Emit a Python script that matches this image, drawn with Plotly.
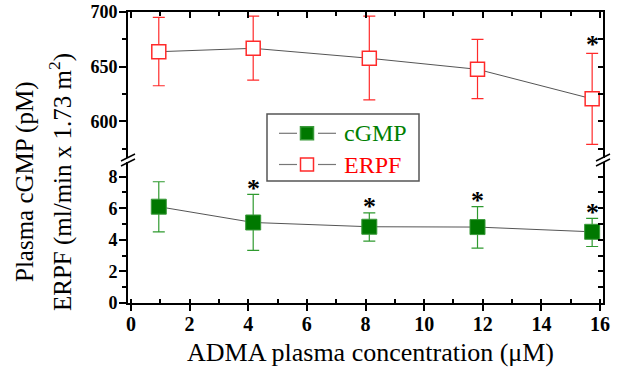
import plotly.graph_objects as go

# ---- data ----
adma = [0.95, 4.17, 8.13, 11.82, 15.73]

erpf = [663.7, 666.8, 657.7, 647.6, 620.6]
erpf_hi = [695.0, 696.3, 696.3, 675.0, 662.2]
erpf_lo = [632.6, 637.8, 619.6, 620.8, 579.0]
erpf_sig = [0, 0, 0, 0, 1]

cgmp = [6.10, 5.10, 4.83, 4.81, 4.51]
cgmp_hi = [7.68, 6.88, 5.71, 6.10, 5.36]
cgmp_lo = [4.51, 3.33, 3.92, 3.47, 3.58]
cgmp_sig = [0, 1, 1, 1, 1]

x_ticks = [0, 2, 4, 6, 8, 10, 12, 14, 16]
erpf_ticks = [600, 650, 700]
cgmp_ticks = [0, 2, 4, 6, 8]

series_names = ["cGMP", "ERPF"]

W, H = 619, 376
L, R, T, B = 128, 16, 12, 73
PW, PH = W - L - R, H - T - B

SERIF = "Liberation Serif, 'Times New Roman', Times, serif"
GREEN = "#007800"
GREEN_TXT = "#008000"
GREEN_ERR = "#2f9a2f"
RED = "#ff2a2a"
LINE = "#555555"

BOT_DOM = [0, 0.485]
TOP_DOM = [0.497, 1]


def pix(x, y):
    return (x - L) / PW, (H - B - y) / PH


fig = go.Figure()

fig.add_trace(go.Scatter(
    x=adma, y=cgmp, mode="lines+markers", name=series_names[0],
    line=dict(color=LINE, width=1),
    marker=dict(symbol="square", size=15, color=GREEN, line=dict(color="#3a9a3a", width=1)),
    error_y=dict(type="data", symmetric=False,
                 array=[h - v for h, v in zip(cgmp_hi, cgmp)],
                 arrayminus=[v - l for l, v in zip(cgmp_lo, cgmp)],
                 color=GREEN_ERR, thickness=1.2, width=6),
    xaxis="x", yaxis="y", showlegend=False,
))

fig.add_trace(go.Scatter(
    x=adma, y=erpf, mode="lines+markers", name=series_names[1],
    line=dict(color=LINE, width=1),
    marker=dict(symbol="square", size=14, color="white", line=dict(color=RED, width=1.5)),
    error_y=dict(type="data", symmetric=False,
                 array=[h - v for h, v in zip(erpf_hi, erpf)],
                 arrayminus=[v - l for l, v in zip(erpf_lo, erpf)],
                 color=RED, thickness=1.2, width=6),
    xaxis="x", yaxis="y2", showlegend=False,
))

annotations = []
for xv, hv, s in zip(adma, cgmp_hi, cgmp_sig):
    if s:
        annotations.append(dict(x=xv, y=hv, xref="x", yref="y", text="<b>*</b>",
                                showarrow=False, yanchor="middle", yshift=6,
                                font=dict(family=SERIF, size=26, color="black")))
for xv, hv, s in zip(adma, erpf_hi, erpf_sig):
    if s:
        annotations.append(dict(x=xv, y=hv, xref="x", yref="y2", text="<b>*</b>",
                                showarrow=False, yanchor="middle", yshift=9,
                                font=dict(family=SERIF, size=26, color="black")))

# axis titles
ax, ay = pix(25, 182)
annotations.append(dict(x=ax, y=ay, xref="paper", yref="paper", text="Plasma cGMP (pM)",
                        textangle=-90, showarrow=False, xanchor="center", yanchor="middle",
                        font=dict(family=SERIF, size=25, color="black")))
ax, ay = pix(61, 182)
annotations.append(dict(x=ax, y=ay, xref="paper", yref="paper",
                        text="ERPF (ml/min x 1.73 m<sup>2</sup>)",
                        textangle=-90, showarrow=False, xanchor="center", yanchor="middle",
                        font=dict(family=SERIF, size=25, color="black")))
ax, ay = pix(370, 352)
annotations.append(dict(x=ax, y=ay, xref="paper", yref="paper",
                        text="ADMA plasma concentration (μM)",
                        showarrow=False, xanchor="center", yanchor="middle",
                        font=dict(family=SERIF, size=26, color="black")))

shapes = []

# axis break marks
for cx in (128, 603):
    for dy in (-2.5, 2.5):
        x0, y0 = pix(cx - 7, 160 + dy + 3.5)
        x1, y1 = pix(cx + 7, 160 + dy - 3.5)
        shapes.append(dict(type="line", xref="paper", yref="paper",
                           x0=x0, y0=y0, x1=x1, y1=y1,
                           line=dict(color="black", width=1.5)))

# legend box (drawn as layout decoration)
bx0, by0 = pix(267, 181)
bx1, by1 = pix(419, 114)
shapes.append(dict(type="rect", xref="paper", yref="paper", x0=bx0, y0=by0, x1=bx1, y1=by1,
                   line=dict(color="#555555", width=1.5), fillcolor="white", layer="above"))
legend_rows = [
    (133.3, series_names[0], GREEN, "#3a9a3a", GREEN_TXT),
    (164.5, series_names[1], "white", RED, "#ff0000"),
]
for ry, name, fill, edge, tcol in legend_rows:
    for lx0, lx1 in ((279, 297), (318, 336)):
        a0, b0 = pix(lx0, ry)
        a1, b1 = pix(lx1, ry)
        shapes.append(dict(type="line", xref="paper", yref="paper", x0=a0, y0=b0, x1=a1, y1=b1,
                           line=dict(color="#777777", width=1.2), layer="above"))
    s0x, s0y = pix(300.5, ry + 6.5)
    s1x, s1y = pix(313.5, ry - 6.5)
    shapes.append(dict(type="rect", xref="paper", yref="paper", x0=s0x, y0=s0y, x1=s1x, y1=s1y,
                       fillcolor=fill, line=dict(color=edge, width=1.5), layer="above"))
    tx, ty = pix(342, ry)
    annotations.append(dict(x=tx, y=ty, xref="paper", yref="paper", text=name,
                            showarrow=False, xanchor="left", yanchor="middle",
                            font=dict(family=SERIF, size=24, color=tcol)))

tickfont_x = dict(family=SERIF, size=20, color="black", weight="bold")
tickfont_y = dict(family=SERIF, size=18, color="black", weight="bold")

common = dict(showgrid=False, zeroline=False, automargin=False)

fig.update_layout(
    width=W, height=H,
    margin=dict(l=L, r=R, t=T, b=B, autoexpand=False),
    paper_bgcolor="white", plot_bgcolor="white",
    showlegend=False,
    xaxis=dict(domain=[0, 1], range=[-0.1, 16.1], anchor="y",
               tickmode="array", tickvals=x_ticks,
               ticks="outside", ticklen=6, tickwidth=1.5, tickcolor="black",
               minor=dict(ticks="inside", ticklen=4, dtick=1, tickcolor="black", tickwidth=1.5),
               showline=True, linecolor="black", linewidth=2, ticklabelstandoff=-4,
               tickfont=tickfont_x, **common),
    xaxis2=dict(domain=[0, 1], range=[-0.1, 16.1], anchor="y2", overlaying="x", side="top",
                tickmode="array", tickvals=x_ticks,
                ticks="inside", ticklen=6, tickwidth=1.5, tickcolor="black",
                minor=dict(ticks="inside", ticklen=4, dtick=1, tickcolor="black", tickwidth=1.5),
                showline=True, linecolor="black", linewidth=1.5,
                showticklabels=False, **common),
    yaxis=dict(domain=BOT_DOM, range=[0, 8.94], anchor="x",
               tickmode="array", tickvals=cgmp_ticks,
               ticks="outside", ticklen=7, tickwidth=1.5, tickcolor="black",
               minor=dict(ticks="outside", ticklen=4, dtick=1, tickcolor="black", tickwidth=1.5),
               showline=True, linecolor="black", linewidth=2, ticklabelstandoff=-2,
               tickfont=tickfont_y, **common),
    yaxis2=dict(domain=TOP_DOM, range=[566.2, 700], anchor="x",
                tickmode="array", tickvals=erpf_ticks,
                ticks="outside", ticklen=7, tickwidth=1.5, tickcolor="black",
                minor=dict(ticks="outside", ticklen=4, dtick=25, tickcolor="black", tickwidth=1.5),
                showline=True, linecolor="black", linewidth=2, ticklabelstandoff=-2,
                tickfont=tickfont_y, **common),
    yaxis3=dict(domain=BOT_DOM, range=[0, 8.94], anchor="x", overlaying="y", side="right",
                tickmode="linear", tick0=0, dtick=1,
                ticks="inside", ticklen=5, tickwidth=1.5, tickcolor="black",
                showline=True, linecolor="black", linewidth=1.5,
                showticklabels=False, **common),
    yaxis4=dict(domain=TOP_DOM, range=[566.2, 700], anchor="x", overlaying="y2", side="right",
                tickmode="linear", tick0=575, dtick=25,
                ticks="inside", ticklen=5, tickwidth=1.5, tickcolor="black",
                showline=True, linecolor="black", linewidth=1.5,
                showticklabels=False, **common),
    annotations=annotations,
    shapes=shapes,
)

# invisible traces to activate the mirror axes
fig.add_trace(go.Scatter(x=[None], y=[None], xaxis="x2", yaxis="y2", showlegend=False, hoverinfo="skip"))
fig.add_trace(go.Scatter(x=[None], y=[None], xaxis="x", yaxis="y3", showlegend=False, hoverinfo="skip"))
fig.add_trace(go.Scatter(x=[None], y=[None], xaxis="x", yaxis="y4", showlegend=False, hoverinfo="skip"))

fig.write_html("out.html", config={"displayModeBar": False},
               post_script="document.body.style.margin='0';document.body.style.overflow='hidden';")
